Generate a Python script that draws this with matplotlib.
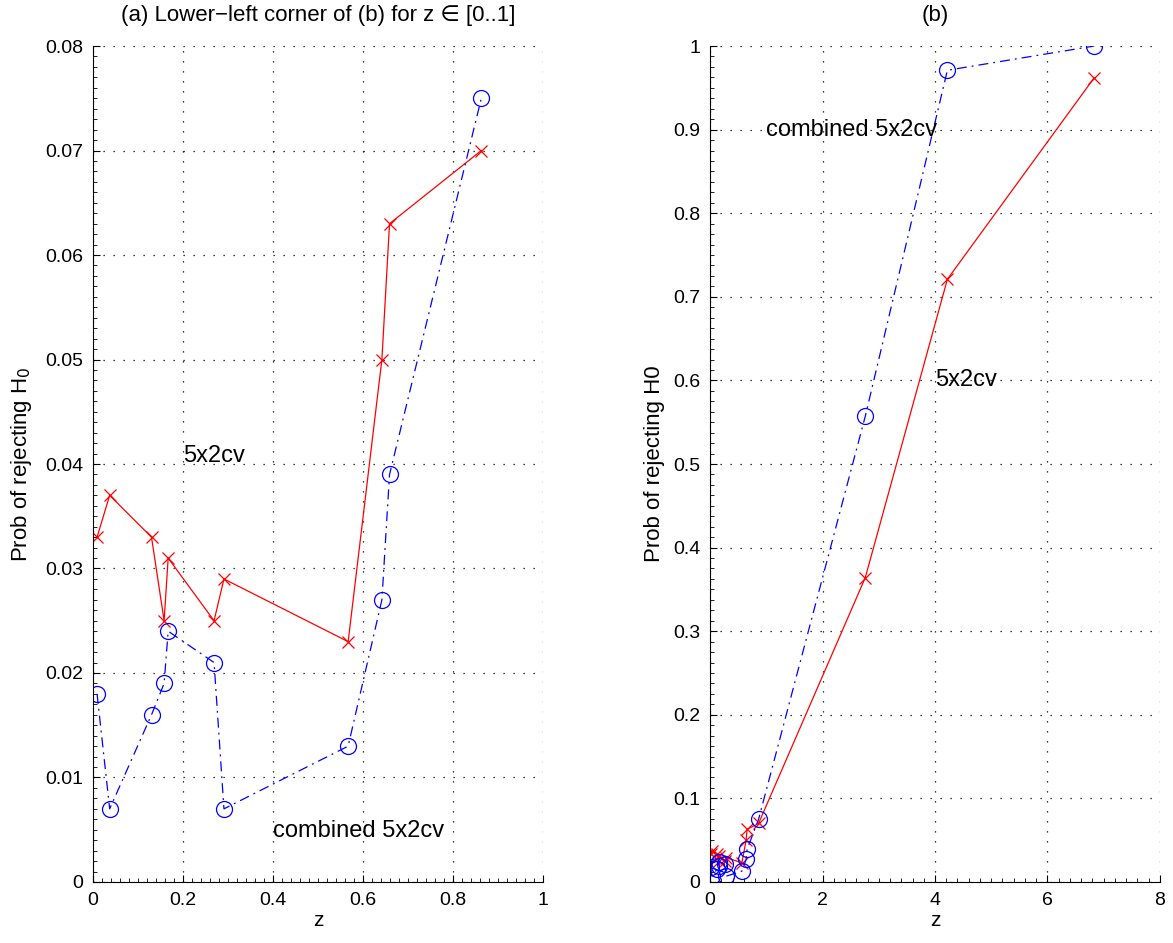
import numpy as np
import matplotlib.pyplot as plt
from matplotlib.ticker import MultipleLocator

plt.rcParams['font.family'] = ['Liberation Sans', 'DejaVu Sans']
plt.rcParams['font.size'] = 14

# z values (shared by both curves)
z = [0.009, 0.037, 0.130, 0.158, 0.167, 0.269, 0.291, 0.567, 0.642, 0.659, 0.863, 2.76, 4.22, 6.83]
# 5x2cv test
p_5x2cv = [0.033, 0.037, 0.033, 0.025, 0.031, 0.025, 0.029, 0.023, 0.050, 0.063, 0.070, 0.364, 0.721, 0.962]
# combined 5x2cv test
p_comb = [0.018, 0.007, 0.016, 0.019, 0.024, 0.021, 0.007, 0.013, 0.027, 0.039, 0.075, 0.557, 0.971, 1.0]

n_small = 11  # points shown in panel (a)

fig = plt.figure(figsize=(11.73, 9.43), dpi=100)
ax1 = fig.add_axes([0.0793, 0.0647, 0.3836, 0.8865])
ax2 = fig.add_axes([0.6053, 0.0647, 0.3836, 0.8865])

grid_ls = (0, (1, 7))
dashdot = (0, (8, 4, 1.5, 4))


def draw(ax, zz, a, b):
    ax.plot(zz, a, 'r-', marker='x', ms=8, mew=0.9, lw=0.9)
    ax.plot(zz, b, color='b', linestyle=dashdot, marker='o', ms=11.5, mfc='none', mew=0.9, lw=0.9)
    ax.grid(True, which='major', color='k', linestyle=grid_ls, linewidth=0.9)
    for s in ['top', 'right']:
        ax.spines[s].set_visible(False)
    ax.spines['left'].set_linewidth(0.8)
    ax.spines['bottom'].set_linewidth(0.8)
    ax.tick_params(which='both', direction='in', top=False, right=False)
    ax.tick_params(which='major', length=5, pad=7, labelsize=14)
    ax.tick_params(which='minor', length=3)
    ax.set_xlabel('z', fontsize=15, labelpad=2)


draw(ax1, z[:n_small], p_5x2cv[:n_small], p_comb[:n_small])
ax1.set_xlim(0, 1)
ax1.set_ylim(0, 0.08)
ax1.set_xticks(np.arange(0, 1.01, 0.2))
ax1.set_xticklabels(['0', '0.2', '0.4', '0.6', '0.8', '1'])
ax1.set_yticks(np.arange(0, 0.081, 0.01))
ax1.set_yticklabels(['0', '0.01', '0.02', '0.03', '0.04', '0.05', '0.06', '0.07', '0.08'])
ax1.xaxis.set_minor_locator(MultipleLocator(0.02))
ax1.yaxis.set_minor_locator(MultipleLocator(0.001))
ax1.set_ylabel('Prob of rejecting H$_0$', fontsize=16, labelpad=8)
ax1.set_title('(a) Lower\u2212left corner of (b) for z \u2208 [0..1]', fontsize=16, pad=18)
ax1.text(0.2, 0.0408, '5x2cv', va='center', ha='left', fontsize=17)
ax1.text(0.4, 0.0049, 'combined 5x2cv', va='center', ha='left', fontsize=17)

draw(ax2, z, p_5x2cv, p_comb)
ax2.set_xlim(0, 8)
ax2.set_ylim(0, 1)
ax2.set_xticks(np.arange(0, 8.1, 2))
ax2.set_yticks(np.arange(0, 1.01, 0.1))
ax2.set_yticklabels(['0', '0.1', '0.2', '0.3', '0.4', '0.5', '0.6', '0.7', '0.8', '0.9', '1'])
ax2.xaxis.set_minor_locator(MultipleLocator(0.2))
ax2.yaxis.set_minor_locator(MultipleLocator(0.0125))
ax2.set_ylabel('Prob of rejecting H0', fontsize=16, labelpad=6)
ax2.set_title('(b)', fontsize=16, pad=18)
ax2.text(1.0, 0.9, 'combined 5x2cv', va='center', ha='left', fontsize=17)
ax2.text(4.0, 0.6, '5x2cv', va='center', ha='left', fontsize=17)

fig.savefig('out.png', dpi=100)
